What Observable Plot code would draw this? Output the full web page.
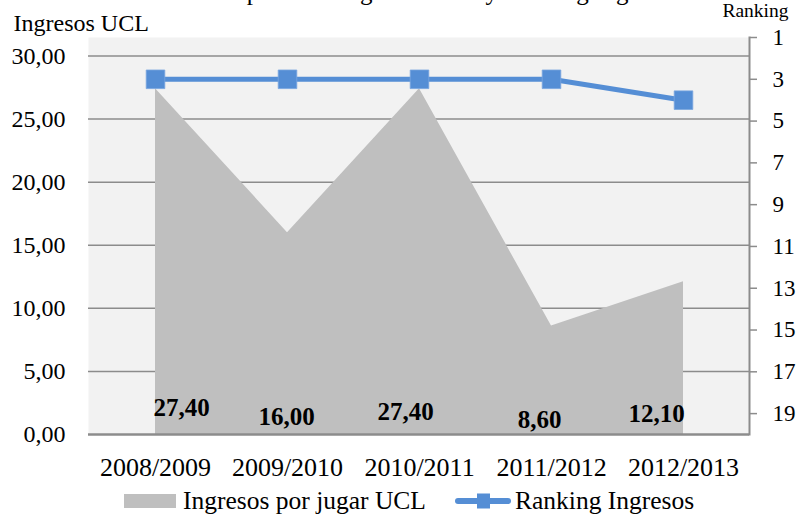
<!DOCTYPE html>
<html>
<head>
<meta charset="utf-8">
<script src="https://cdn.jsdelivr.net/npm/d3@7"></script>
<script src="https://cdn.jsdelivr.net/npm/@observablehq/plot@0.6"></script>
<style>
  body { margin: 0; background: white; font-family: "Liberation Serif", serif; }
  svg, svg text, svg g { font-family: "Liberation Serif", serif !important; }
  #legend { position: relative; width: 798px; height: 34px; font-family: "Liberation Serif", serif; font-size: 25.5px; color: #000; }
  #legend .item { position: absolute; top: 0; height: 34px; display: flex; align-items: center; }
</style>
</head>
<body>
<div id="chart"></div>
<div id="legend"></div>
<script>
const title = "Comparación Ingresos UCL y Ranking Ingresos";
const seasons = ["2008/2009", "2009/2010", "2010/2011", "2011/2012", "2012/2013"];
const ingresos = [27.40, 16.00, 27.40, 8.60, 12.10];
const ranking = [3, 3, 3, 3, 4];
const yTicks = [0, 5, 10, 15, 20, 25, 30];
const rankTicks = [1, 3, 5, 7, 9, 11, 13, 15, 17, 19];
const seriesNames = ["Ingresos por jugar UCL", "Ranking Ingresos"];

// label placement (style)
const labelDx = [26, -1, -14, -12, -27];
const labelDy = [-27, -18, -23, -15, -21];

const W = 798, H = 484;
const mTop = 37, mBottom = 50, mLeft = 88, mRight = 49;
// left axis: 0..30 where 30 sits at 55.5px; frame top at 37px
const yMax = 30 * (H - mBottom - mTop) / (H - mBottom - 55.5);
const rankMin = 1, rankMax = 20;
const rankToY = r => (rankMax - r) / (rankMax - rankMin) * yMax;
const yToRank = v => Math.round(rankMax - v * (rankMax - rankMin) / yMax);

const data = seasons.map((s, i) => ({season: s, ingresos: ingresos[i], rank: ranking[i]}));
const fmt = v => v.toFixed(2).replace(".", ",");

const blue = "#558ed5";
const grid = "#8c8c8c";
const FF = "Liberation Serif";

const labelMarks = data.map((d, i) => Plot.text([d], {
  x: "season", y: 0, text: d => fmt(d.ingresos),
  dx: labelDx[i], dy: labelDy[i], lineAnchor: "middle",
  fontSize: 25, fontWeight: "bold", fill: "#000", fontFamily: FF
}));

const chart = Plot.plot({
  width: W, height: H,
  marginTop: mTop, marginBottom: mBottom, marginLeft: mLeft, marginRight: mRight,
  style: {fontFamily: "'Liberation Serif', serif", background: "white", color: "#000"},
  x: {type: "point", domain: seasons, padding: 0.5},
  y: {domain: [0, yMax]},
  marks: [
    Plot.frame({fill: "#f2f2f2", stroke: null}),
    Plot.ruleY(yTicks.filter(v => v > 0), {stroke: grid, strokeWidth: 1.5}),
    Plot.areaY(data, {x: "season", y: "ingresos", fill: "#bfbfbf"}),
    Plot.ruleY([0], {stroke: grid, strokeWidth: 2.5}),
    Plot.frame({anchor: "right", stroke: grid, strokeWidth: 2}),
    Plot.axisY(yTicks, {anchor: "left", tickSize: 0, tickPadding: 23, fontSize: 24, fontFamily: FF, tickFormat: fmt, label: null}),
    Plot.axisY(rankTicks.map(rankToY), {anchor: "right", tickSize: 7, tickPadding: 16, fontSize: 23, fontFamily: FF, stroke: grid, strokeWidth: 1.5, tickFormat: yToRank, label: null}),
    Plot.axisX({tickSize: 0, tickPadding: 23, fontSize: 26, fontFamily: FF, label: null}),
    Plot.line(data, {x: "season", y: d => rankToY(d.rank), stroke: blue, strokeWidth: 5}),
    Plot.dot(data, {x: "season", y: d => rankToY(d.rank), symbol: "square", r: 10.5, fill: blue, stroke: "#7aa6e0", strokeWidth: 0.8}),
    ...labelMarks,
    Plot.text([title], {frameAnchor: "top", dx: 20, dy: -38, lineAnchor: "bottom", fontSize: 25, fontFamily: FF, fill: "#000"}),
    Plot.text(["Ingresos UCL"], {frameAnchor: "top-left", dx: -75, dy: -14, textAnchor: "start", lineAnchor: "middle", fontSize: 24, fontFamily: FF, fill: "#000"}),
    Plot.text(["Ranking"], {frameAnchor: "top-right", dx: 39, dy: -27, textAnchor: "end", lineAnchor: "middle", fontSize: 19.5, fontFamily: FF, fill: "#000"})
  ]
});
document.getElementById("chart").appendChild(chart);

// legend
const legend = document.getElementById("legend");
legend.innerHTML = `
  <div class="item" style="left:124px">
    <span style="display:inline-block;width:52px;height:14px;background:#bfbfbf;margin-right:7px"></span>
    <span>${seriesNames[0]}</span>
  </div>
  <div class="item" style="left:455px">
    <svg width="56" height="20" style="margin-right:4px">
      <line x1="3" y1="10" x2="53" y2="10" stroke="${blue}" stroke-width="6" stroke-linecap="round"/>
      <rect x="22" y="2.5" width="13" height="15" fill="${blue}"/>
    </svg>
    <span>${seriesNames[1]}</span>
  </div>`;
</script>
</body>
</html>
